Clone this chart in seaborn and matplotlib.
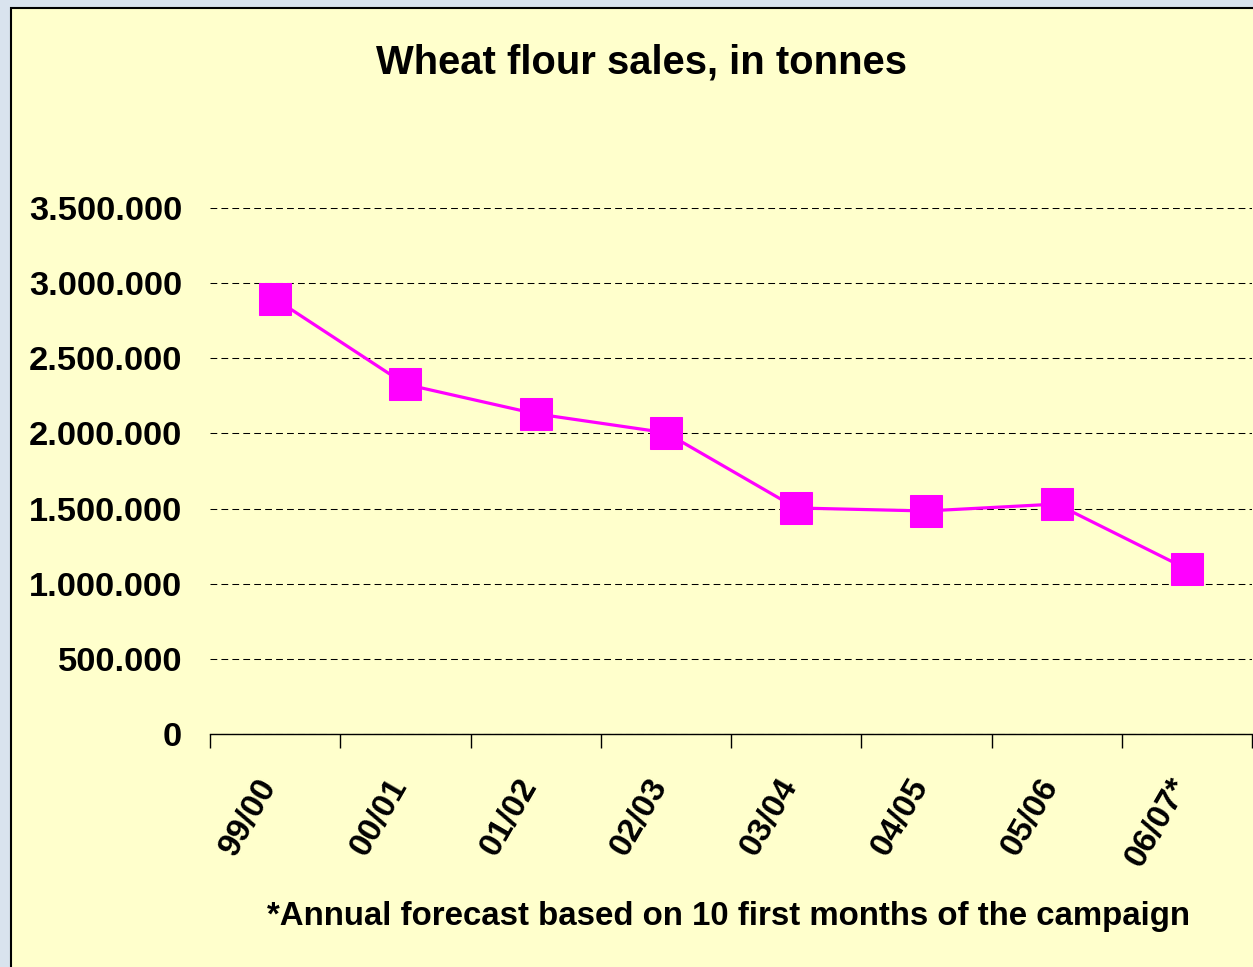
import numpy as np
import pandas as pd
import matplotlib
matplotlib.use("Agg")
import matplotlib.pyplot as plt
import matplotlib.transforms as mtrans
import seaborn as sns
from matplotlib.patches import Rectangle
from matplotlib.ticker import FuncFormatter, FixedLocator

# dane
seasons = ["99/00", "00/01", "01/02", "02/03", "03/04", "04/05", "05/06", "06/07*"]
sales = [2895000, 2327000, 2131000, 2005000, 1504000, 1484000, 1530000, 1098000]
y_ticks = [0, 500000, 1000000, 1500000, 2000000, 2500000, 3000000, 3500000]

df = pd.DataFrame({"season": seasons, "sales": sales})

sns.set_style("white")
plt.rcParams["font.family"] = ["Liberation Sans", "DejaVu Sans"]
plt.rcParams["text.color"] = "black"
plt.rcParams["xtick.color"] = "black"
plt.rcParams["ytick.color"] = "black"

fig = plt.figure(figsize=(12.53, 9.67), dpi=100, facecolor="#d9e3ee")

# zolty panel z czarna ramka
fig.patches.append(Rectangle((11 / 1253, -0.01), 1.0, (967 - 8) / 967 + 0.01,
                             transform=fig.transFigure, facecolor="#ffffcc",
                             edgecolor="black", linewidth=1.5, zorder=-1))

ax = fig.add_axes([210 / 1253, (967 - 734) / 967, 1042 / 1253, (734 - 208) / 967])
ax.set_facecolor("none")
ax.set_zorder(1)

sns.lineplot(data=df, x="season", y="sales", ax=ax, color="#ff00ff", linewidth=2.3,
             marker="s", markersize=23, markeredgecolor="#ff00ff", sort=False, zorder=3)

ax.set_xlim(-0.5, len(seasons) - 0.5)
ax.set_ylim(0, 3500000)
ax.set_yticks(y_ticks)
ax.yaxis.set_major_formatter(FuncFormatter(lambda v, p: f"{int(v):,}".replace(",", ".")))
ax.grid(axis="y", color="black", linewidth=0.75, linestyle=(0, (6.5, 4)))
ax.set_axisbelow(True)

for s in ["top", "right", "left"]:
    ax.spines[s].set_visible(False)
ax.spines["bottom"].set_color("black")
ax.spines["bottom"].set_linewidth(1.0)

ax.tick_params(axis="y", length=0, pad=20, labelsize=24.8)
for lab in ax.get_yticklabels():
    lab.set_fontweight("bold")

ax.set_xticks(range(len(seasons)))
ax.set_xticklabels(seasons, rotation=60, ha="right", va="top",
                   rotation_mode="anchor", fontsize=24, fontweight="bold")
ax.tick_params(axis="x", which="major", bottom=True, length=0, pad=28)
ax.xaxis.set_minor_locator(FixedLocator(np.arange(-0.5, len(seasons), 1.0)))
ax.tick_params(axis="x", which="minor", bottom=True, length=10, width=1,
               color="black", direction="out")
# przesuniecie etykiet osi X w lewo, jak w oryginale
shift = mtrans.ScaledTranslation(-19 / 100, 0, fig.dpi_scale_trans)
for lab in ax.get_xticklabels():
    lab.set_transform(lab.get_transform() + shift)
ax.set_xlabel("")
ax.set_ylabel("")

fig.text(642 / 1253, 1 - 63 / 967, "Wheat flour sales, in tonnes", ha="center", va="center",
         fontsize=28.8, fontweight="bold")
fig.text(729 / 1253, 1 - 917 / 967, "*Annual forecast based on 10 first months of the campaign",
         ha="center", va="center", fontsize=23.8, fontweight="bold")

fig.savefig("out.png", dpi=100, facecolor=fig.get_facecolor())
